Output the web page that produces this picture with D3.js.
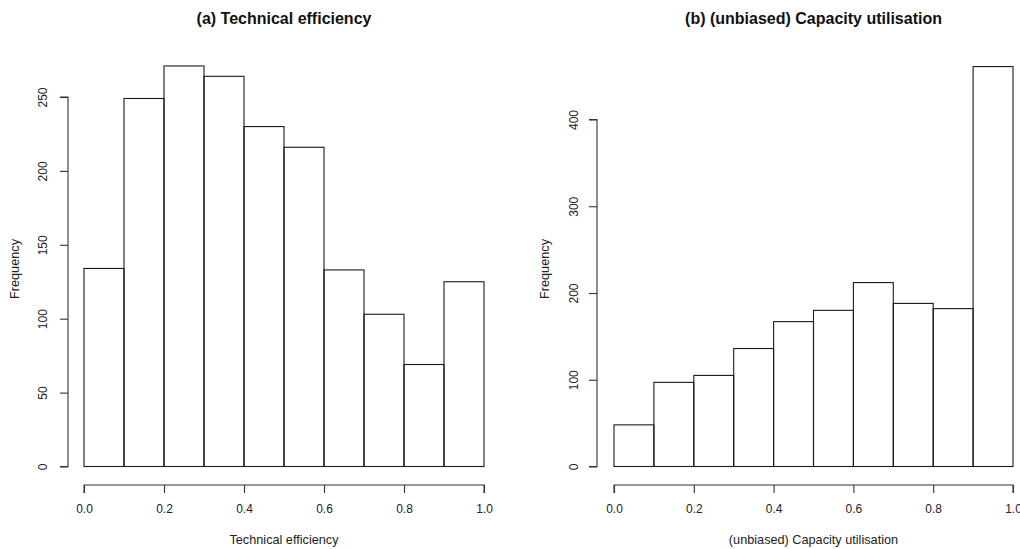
<!DOCTYPE html>
<html><head><meta charset="utf-8">
<script src="https://cdn.jsdelivr.net/npm/d3@7"></script>
<style>body{margin:0;background:#fff}svg{display:block}</style>
</head><body>
<svg id="c" width="1020" height="549"></svg>
<script>
const binEdges = [0,0.1,0.2,0.3,0.4,0.5,0.6,0.7,0.8,0.9,1.0];
const teCounts = [134,249,271,264,230,216,133,103,69,125];
const cuCounts = [48,97,105,136,167,180,212,188,182,461];
const xTicks = [0,0.2,0.4,0.6,0.8,1.0];
const teYTicks = [0,50,100,150,200,250];
const cuYTicks = [0,100,200,300,400];
const panels = [
  {title:"(a) Technical efficiency", xlab:"Technical efficiency", counts:teCounts, yTicks:teYTicks,
   x0:84, x1:484, y0:466.5, yTop:97, yTopVal:250, axisX:68, ylabX:44, freqX:16},
  {title:"(b) (unbiased) Capacity utilisation", xlab:"(unbiased) Capacity utilisation", counts:cuCounts, yTicks:cuYTicks,
   x0:614, x1:1013, y0:466.5, yTop:119.5, yTopVal:400, axisX:597, ylabX:575, freqX:546}
];
const svg = d3.select("#c");
const font = "'Liberation Sans', Arial, sans-serif";
panels.forEach(p => {
  const g = svg.append("g");
  const x = d3.scaleLinear().domain([0,1]).range([p.x0,p.x1]);
  const y = d3.scaleLinear().domain([0,p.yTopVal]).range([p.y0,p.yTop]);
  g.selectAll("rect").data(p.counts).join("rect")
    .attr("x",(d,i)=>x(binEdges[i])).attr("width",(d,i)=>x(binEdges[i+1])-x(binEdges[i]))
    .attr("y",d=>y(d)).attr("height",d=>y(0)-y(d))
    .attr("fill","none").attr("stroke","#1a1a1a").attr("stroke-width",1.1);
  const ya = d3.axisLeft(y).tickValues(p.yTicks).tickSize(8).tickFormat(d3.format("d"));
  const yg = g.append("g").attr("transform",`translate(${p.axisX},0)`).call(ya);
  yg.select(".domain").attr("d",`M-8,${y(p.yTicks[0])}H0V${y(p.yTicks[p.yTicks.length-1])}H-8`).attr("stroke","#333").attr("stroke-width",1.1);
  yg.selectAll(".tick line").attr("stroke","#333").attr("stroke-width",1.1);
  yg.selectAll(".tick text").attr("x",0).attr("dy",0)
    .attr("transform",d=>`translate(${p.ylabX-p.axisX},0) rotate(-90)`)
    .attr("text-anchor","middle").attr("dominant-baseline","middle")
    .style("font-family",font).style("font-size","12px").attr("fill","#222");
  const axY = 485;
  const xa = d3.axisBottom(x).tickValues(xTicks).tickSize(8).tickFormat(d3.format(".1f"));
  const xg = g.append("g").attr("transform",`translate(0,${axY})`).call(xa);
  xg.select(".domain").attr("d",`M${x(0)},8V0H${x(1)}V8`).attr("stroke","#333").attr("stroke-width",1.1);
  xg.selectAll(".tick line").attr("stroke","#333").attr("stroke-width",1.1);
  xg.selectAll(".tick text").attr("y",25).attr("dy",0).attr("dominant-baseline","middle")
    .style("font-family",font).style("font-size","12px").attr("fill","#222");
  g.append("text").attr("x",(p.x0+p.x1)/2).attr("y",541).attr("text-anchor","middle").attr("dominant-baseline","middle")
    .style("font-family",font).style("font-size","12.7px").attr("fill","#222").text(p.xlab);
  g.append("text").attr("transform",`translate(${p.freqX},269) rotate(-90)`)
    .attr("text-anchor","middle").attr("dominant-baseline","middle")
    .style("font-family",font).style("font-size","12.7px").attr("fill","#222").text("Frequency");
  g.append("text").attr("x",(p.x0+p.x1)/2).attr("y",20).attr("text-anchor","middle").attr("dominant-baseline","middle")
    .style("font-family","'Liberation Sans Narrow','Liberation Sans',Arial,sans-serif").style("font-weight","bold").style("font-size","16px").attr("fill","#111").text(p.title);
});
</script>
</body></html>
